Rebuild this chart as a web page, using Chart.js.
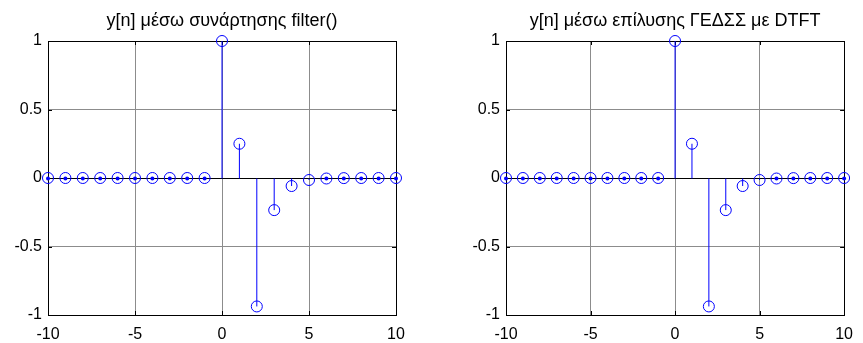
<!DOCTYPE html>
<html>
<head>
<meta charset="utf-8">
<script src="https://cdn.jsdelivr.net/npm/chart.js@4"></script>
<style>
  body { margin: 0; background: #fff; }
  .box { position: absolute; top: 0; }
</style>
</head>
<body>
<div class="box" style="left:0px"><canvas id="c1" width="430" height="343"></canvas></div>
<div class="box" style="left:430px"><canvas id="c2" width="433" height="343"></canvas></div>
<script>
// sample index n
var nValues = [-10, -9, -8, -7, -6, -5, -4, -3, -2, -1, 0, 1, 2, 3, 4, 5, 6, 7, 8, 9, 10];
// y[n] from filter()
var yFilter = [0, 0, 0, 0, 0, 0, 0, 0, 0, 0, 1, 0.25, -0.9375, -0.2344, -0.0586, -0.0146, -0.0037, -0.0009, -0.0002, -0.0001, 0];
// y[n] from DTFT solution
var yDtft = [0, 0, 0, 0, 0, 0, 0, 0, 0, 0, 1, 0.25, -0.9375, -0.2344, -0.0586, -0.0146, -0.0037, -0.0009, -0.0002, -0.0001, 0];
var xTicks = [-10, -5, 0, 5, 10];
var yTicks = [-1, -0.5, 0, 0.5, 1];
var titles = ['y[n] μέσω συνάρτησης filter()', 'y[n] μέσω επίλυσης ΓΕΔΣΣ με DTFT'];

var FONT = 'Liberation Sans, Arial, sans-serif';

var stemPlugin = {
     id: 'stem',
     beforeDatasetsDraw: function (chart) {
          var ctx = chart.ctx;
          var a = chart.chartArea;
          var xs = chart.scales.x, ys = chart.scales.y;
          ctx.save();
          // frame
          ctx.strokeStyle = '#000';
          ctx.lineWidth = 1;
          ctx.strokeRect(Math.round(a.left) + 0.5, Math.round(a.top) + 0.5,
               Math.round(a.right - a.left), Math.round(a.bottom - a.top));
          // inward ticks
          ctx.beginPath();
          xTicks.forEach(function (t) {
               var px = Math.round(xs.getPixelForValue(t)) + 0.5;
               ctx.moveTo(px, a.bottom); ctx.lineTo(px, a.bottom - 4);
               ctx.moveTo(px, a.top); ctx.lineTo(px, a.top + 4);
          });
          yTicks.forEach(function (t) {
               var py = Math.round(ys.getPixelForValue(t)) + 0.5;
               ctx.moveTo(a.left, py); ctx.lineTo(a.left + 4, py);
               ctx.moveTo(a.right, py); ctx.lineTo(a.right - 4, py);
          });
          ctx.stroke();
          // baseline
          var y0 = Math.round(ys.getPixelForValue(0)) + 0.5;
          ctx.beginPath();
          ctx.moveTo(a.left, y0); ctx.lineTo(a.right, y0);
          ctx.stroke();
          // stems
          var data = chart.data.datasets[0].data;
          ctx.strokeStyle = '#0000ff';
          ctx.fillStyle = '#0000ff';
          data.forEach(function (p) {
               var px = xs.getPixelForValue(p.x);
               var py = ys.getPixelForValue(p.y);
               if (Math.abs(py - y0) < 1) {
                    ctx.beginPath();
                    ctx.arc(px, y0, 2, 0, Math.PI * 2);
                    ctx.fill();
               } else {
                    ctx.beginPath();
                    ctx.moveTo(px, y0);
                    ctx.lineTo(px, py);
                    ctx.stroke();
               }
          });
          ctx.restore();
     },
     afterDraw: function (chart) {
          var ctx = chart.ctx;
          var a = chart.chartArea;
          ctx.save();
          ctx.fillStyle = '#000';
          ctx.font = '18px ' + FONT;
          ctx.textAlign = 'center';
          ctx.textBaseline = 'alphabetic';
          ctx.fillText(chart.options.plugins.stem.title, (a.left + a.right) / 2, 26);
          ctx.restore();
     }
};

function makeChart(id, values, title, leftW, padRight) {
     var pts = [];
     for (var i = 0; i < nValues.length; i++) {
          pts.push({ x: nValues[i], y: values[i] });
     }
     return new Chart(id, {
          type: 'scatter',
          data: {
               datasets: [{
                    data: pts,
                    borderColor: '#0000ff',
                    backgroundColor: 'rgba(0,0,0,0)',
                    borderWidth: 1,
                    pointRadius: 5.5,
                    pointHoverRadius: 5.5,
                    clip: false
               }]
          },
          options: {
               responsive: false,
               animation: false,
               layout: { padding: { left: 0, right: padRight, top: 41, bottom: 0 } },
               plugins: {
                    legend: { display: false },
                    tooltip: { enabled: false },
                    stem: { title: title }
               },
               scales: {
                    x: {
                         type: 'linear',
                         min: -10, max: 10,
                         afterFit: function (s) { s.height = 28; },
                         afterBuildTicks: function (s) { s.ticks = xTicks.map(function (v) { return { value: v }; }); },
                         grid: { color: '#8c8c8c', drawTicks: false },
                         border: { display: false },
                         ticks: {
                              padding: 10, color: '#000', maxRotation: 0,
                              font: { family: FONT, size: 16 },
                              callback: function (v) { return String(v); }
                         }
                    },
                    y: {
                         type: 'linear',
                         min: -1, max: 1,
                         afterFit: function (s) { s.width = leftW; },
                         afterBuildTicks: function (s) { s.ticks = yTicks.map(function (v) { return { value: v }; }); },
                         grid: { color: '#8c8c8c', drawTicks: false },
                         border: { display: false },
                         ticks: {
                              padding: 6, color: '#000',
                              font: { family: FONT, size: 16 },
                              callback: function (v) { return String(v); }
                         }
                    }
               }
          },
          plugins: [stemPlugin]
     });
}

makeChart('c1', yFilter, titles[0], 48, 34);
makeChart('c2', yDtft, titles[1], 76, 10);
</script>
</body>
</html>
